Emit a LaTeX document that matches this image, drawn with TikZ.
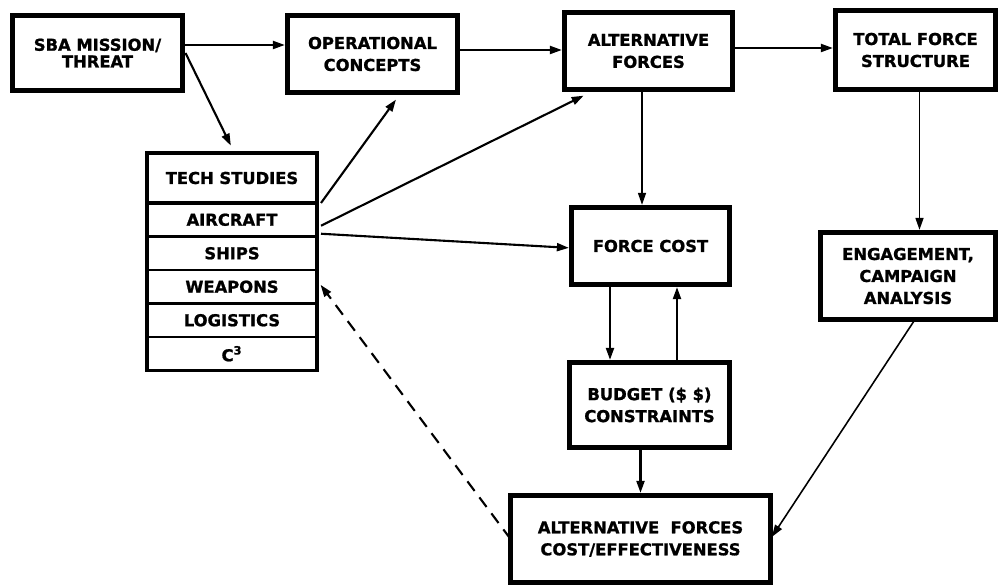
\documentclass[tikz,border=0pt]{standalone}
\usepackage{fontspec}
\setmainfont{DejaVu Sans}[BoldFeatures={FakeBold=1.2}]
\usetikzlibrary{arrows.meta,positioning,fit}

\begin{document}
\begin{tikzpicture}[
    font=\fontsize{9.3}{12.5}\selectfont\bfseries,
    blk/.style={rectangle, draw=black, line width=2.6pt, align=center, inner sep=2pt, outer sep=0pt},
    cell/.style={rectangle, draw=black, line width=1.5pt, minimum width=3.4cm, minimum height=0.67cm, inner sep=1pt, outer sep=0pt},
    arrow/.style={-{Triangle[length=2.4mm,width=1.6mm]}, line width=1.2pt, shorten >=1.5pt},
    tarrow/.style={arrow, line width=0.9pt},
    darrow/.style={arrow, dash pattern=on 2.4mm off 1.6mm},
]
\useasboundingbox (0,0) rectangle (20,-11.76);

% Top row
\node[blk, minimum width=3.4cm, minimum height=1.5cm, font=\fontsize{9.3}{9.5}\selectfont\bfseries] (sba) at (1.95,-1.06) {SBA MISSION/\\THREAT};
\node[blk, minimum width=3.4cm, minimum height=1.54cm] (opcon) at (7.45,-1.08) {OPERATIONAL\\CONCEPTS};
\node[blk, minimum width=3.36cm, minimum height=1.54cm] (altf) at (12.97,-1.02) {ALTERNATIVE\\FORCES};
\node[blk, minimum width=3.2cm, minimum height=1.58cm] (total) at (18.31,-1.0) {TOTAL FORCE\\STRUCTURE};
\draw[arrow] ([yshift=0.16cm]sba.east) -- ([yshift=0.16cm]sba.east -| opcon.west);
\draw[arrow] ([yshift=0.08cm]opcon.east) -- ([yshift=0.08cm]opcon.east -| altf.west);
\draw[arrow] ([yshift=0.06cm]altf.east) -- ([yshift=0.06cm]altf.east -| total.west);

% Tech studies stack
\node[cell, line width=2.2pt, minimum height=1.0cm] (tech) at (4.64,-3.56) {TECH STUDIES};
\node[cell, below=0pt of tech] (aircraft) {AIRCRAFT};
\node[cell, below=0pt of aircraft] (ships) {SHIPS};
\node[cell, below=0pt of ships] (weapons) {WEAPONS};
\node[cell, below=0pt of weapons] (logistics) {LOGISTICS};
\node[cell, below=0pt of logistics] (c3) {C\textsuperscript{3}};
\node[draw, line width=2.2pt, inner sep=0pt, outer sep=0pt, fit=(tech)(c3)] (techframe) {};
\draw[arrow] ([xshift=0.06cm]sba.east) -- ([yshift=0.1cm]tech.north);

% Fan out of the stack
\draw[arrow] ([xshift=0.08cm]tech.south east) -- ([xshift=0.5cm,yshift=-0.1cm]opcon.south);
\draw[arrow] ([xshift=0.08cm,yshift=-0.12cm]aircraft.east) -- ([xshift=0.43cm,yshift=-0.1cm]altf.south west);

% Cost column
\node[blk, minimum width=3.16cm, minimum height=1.54cm] (fc) at (13.01,-4.92) {FORCE COST};
\node[blk, minimum width=3.2cm, minimum height=1.7cm] (budget) at (12.99,-8.1) {BUDGET (\$ \$)\\CONSTRAINTS};
\node[blk, minimum width=5.2cm, minimum height=1.74cm] (altce) at (12.81,-10.78) {ALTERNATIVE\ \ FORCES\\COST/EFFECTIVENESS};
\draw[arrow] ([xshift=0.08cm,yshift=-0.28cm]aircraft.east) -- ([yshift=-0.04cm]fc.west);
\draw[tarrow] ([xshift=-0.13cm]altf.south) -- ([xshift=-0.13cm]altf.south |- fc.north);
\draw[arrow] ([xshift=-0.81cm]fc.south) -- ([xshift=-0.81cm]fc.south |- budget.north);
\draw[arrow] ([xshift=0.53cm]fc.south |- budget.north) -- ([xshift=0.53cm]fc.south);
\draw[arrow] (budget.south -| altce.north) -- (altce.north);

% Engagement
\node[blk, minimum width=3.5cm, minimum height=1.74cm] (engage) at (18.16,-5.52) {ENGAGEMENT,\\CAMPAIGN\\ANALYSIS};
\draw[tarrow] ([xshift=0.08cm]total.south) -- ([xshift=0.08cm]total.south |- engage.north);
\draw[tarrow] ([xshift=0.14cm]engage.south) -- (altce.east);

% Feedback
\draw[darrow] (altce.west) -- ([xshift=0.04cm,yshift=0.08cm]weapons.east);
\end{tikzpicture}
\end{document}
